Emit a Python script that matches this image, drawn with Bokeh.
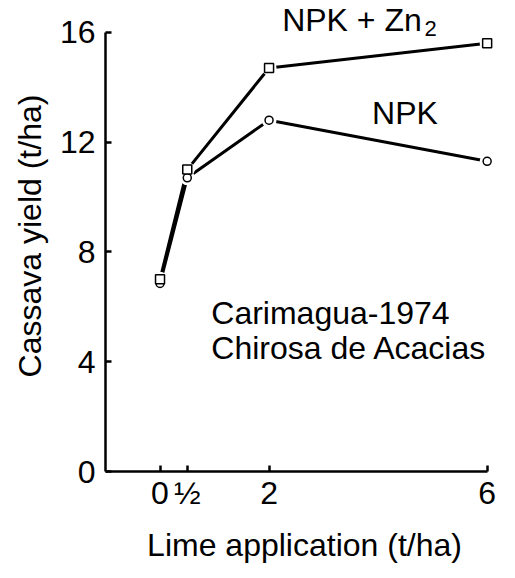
from bokeh.plotting import figure
from bokeh.models import Range1d, FixedTicker, Label, ColumnDataSource
from bokeh.embed import file_html
from bokeh.resources import INLINE

# Data
lime = [0, 0.5, 2, 6]
npk_zn = [7.0, 11.0, 14.7, 15.6]
npk = [6.85, 10.7, 12.8, 11.3]
x_ticks = [0, 0.5, 2, 6]
x_tick_labels = ["0", "½", "2", "6"]
y_ticks = [0, 4, 8, 12, 16]

FONT = "Liberation Sans"

p = figure(width=505, height=570, x_range=Range1d(-1, 6.3), y_range=Range1d(0, 17.16),
           output_backend="svg", toolbar_location=None,
           min_border_left=105, min_border_right=2, min_border_top=0, min_border_bottom=99)
p.outline_line_color = None
p.xgrid.visible = False
p.ygrid.visible = False
p.background_fill_color = "white"
p.border_fill_color = "white"

for ax in (p.xaxis, p.yaxis):
    ax.axis_line_width = 2.5
    ax.axis_line_color = "black"
    ax.major_tick_line_width = 2.5
    ax.major_tick_line_color = "black"
    ax.major_tick_in = 6
    ax.major_tick_out = 0
    ax.minor_tick_line_color = None
    ax.major_label_text_font = FONT
    ax.major_label_text_font_size = "32px"
    ax.major_label_text_color = "black"
    ax.axis_label_text_font = FONT
    ax.axis_label_text_font_size = "32px"
    ax.axis_label_text_font_style = "normal"
    ax.axis_label_text_color = "black"

p.xaxis.ticker = FixedTicker(ticks=x_ticks)
p.xaxis.major_label_overrides = {t: s for t, s in zip(x_ticks, x_tick_labels)}
p.xaxis.bounds = (-1, 6)
p.yaxis.ticker = FixedTicker(ticks=y_ticks)
p.yaxis.bounds = (0, 16)
p.xaxis.axis_label = "Lime application (t/ha)"
p.yaxis.axis_label = "Cassava yield (t/ha)"
p.xaxis.major_label_standoff = 3
p.yaxis.major_label_standoff = 10
p.xaxis.axis_label_standoff = 13
p.yaxis.axis_label_standoff = 9

src_zn = ColumnDataSource(dict(x=lime, y=npk_zn))
src_npk = ColumnDataSource(dict(x=lime, y=npk))

p.line("x", "y", source=src_zn, line_width=3, line_color="black")
p.line("x", "y", source=src_npk, line_width=3, line_color="black")
# white gaps around markers
p.scatter("x", "y", source=src_zn, marker="circle", size=15, fill_color="white", line_color=None)
p.scatter("x", "y", source=src_npk, marker="circle", size=15, fill_color="white", line_color=None)
p.scatter("x", "y", source=src_npk, marker="circle", size=8, fill_color="white", line_color="black", line_width=1.5)
p.scatter("x", "y", source=src_zn, marker="square", size=9, fill_color="white", line_color="black", line_width=1.5)

def lab(x, y, t, size="32px"):
    p.add_layout(Label(x=x, y=y, text=t, text_font=FONT, text_font_size=size,
                       text_color="black", text_baseline="alphabetic", text_align="left"))

lab(2.24, 16.44, "NPK + Zn")
lab(4.85, 16.15, "2", "22px")
lab(3.89, 13.05, "NPK")
lab(0.94, 5.76, "Carimagua-1974")
lab(0.94, 4.49, "Chirosa de Acacias")

open("out.html", "w").write(file_html(p, INLINE))
